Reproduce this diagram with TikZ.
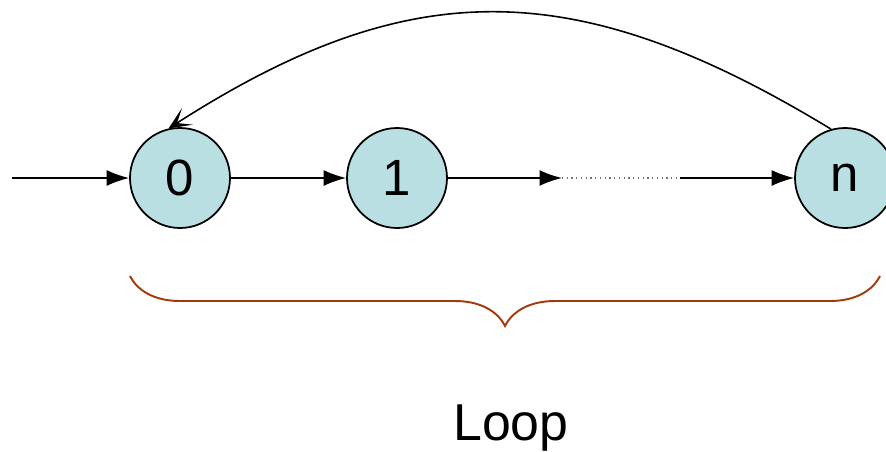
\documentclass[tikz,border=0pt]{standalone}
\usepackage{fontspec}
\setmainfont{Liberation Sans}
\usepackage{tikz}
\usetikzlibrary{positioning,arrows.meta,decorations.pathreplacing}
\definecolor{statefill}{HTML}{B9DFE2}
\definecolor{rust}{HTML}{A33A0B}

\begin{document}
\begin{tikzpicture}[
    state/.style={circle, draw=black, line width=1pt, fill=statefill,
        minimum size=2cm, inner sep=0pt, font=\fontsize{29}{35}\selectfont},
    edge/.style={line width=0.9pt, -{Latex[length=4.5mm,width=3.2mm]}}
]
\useasboundingbox (0,0) rectangle (17.72,9.02);

% States
\node[state] (s0) at (3.6,5.46) {0};
\node[state] (s1) at (7.94,5.46) {1};
\node[state] (sn) at (16.9,5.46) {n};

% Free ends
\coordinate (start) at (0.24,5.46);
\coordinate (gapA) at (11.24,5.46);
\coordinate (gapB) at (13.6,5.46);

% Chain of transitions
\draw[edge] (start) -- (s0);
\draw[edge] (s0) -- (s1);
\draw[edge] (s1) -- (gapA);
\draw[black!55, line width=0.7pt, dotted] (gapA) -- (gapB);
\draw[edge] (gapB) -- (sn);

% Back edge
\draw[line width=0.9pt, -{Stealth[length=4.5mm,width=4mm,inset=2.5mm]}]
    (sn.106) .. controls (11.5,9.55) and (8.2,9.55) .. (s0.103);

% Brace
\draw[rust, line width=1.1pt, decorate, decoration={brace, amplitude=1cm, mirror}]
    (2.6,3.5) -- (17.6,3.5);
\node[anchor=base, font=\fontsize{29.5}{35}\selectfont] (loop) at (10.22,0.22) {Loop};

\end{tikzpicture}
\end{document}
